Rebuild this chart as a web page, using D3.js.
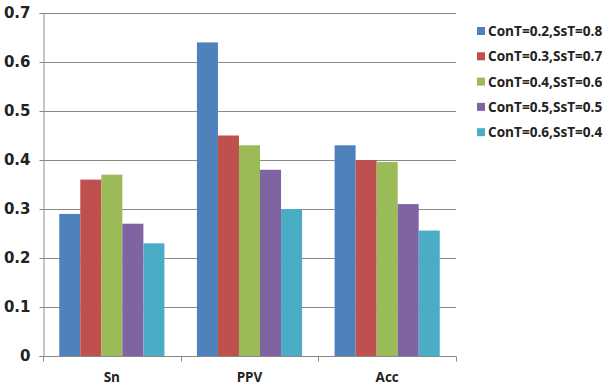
<!DOCTYPE html>
<html><head><meta charset="utf-8">
<script src="https://cdn.jsdelivr.net/npm/d3@7"></script>
<style>body{margin:0;background:#fff}svg{display:block}</style>
</head><body>
<script>
const categories = ["Sn", "PPV", "Acc"];
const seriesNames = ["ConT=0.2,SsT=0.8","ConT=0.3,SsT=0.7","ConT=0.4,SsT=0.6","ConT=0.5,SsT=0.5","ConT=0.6,SsT=0.4"];
const s1 = [0.29, 0.64, 0.43];
const s2 = [0.36, 0.45, 0.40];
const s3 = [0.37, 0.43, 0.396];
const s4 = [0.27, 0.38, 0.31];
const s5 = [0.23, 0.30, 0.256];
const yTicks = [0, 0.1, 0.2, 0.3, 0.4, 0.5, 0.6, 0.7];
const colors = ["#4F81BD", "#C0504D", "#9BBB59", "#8064A2", "#4BACC6"];
const series = [s1, s2, s3, s4, s5];

const W = 609, H = 386;
const m = {left: 43, right: 153, top: 13, bottom: 30};
const svg = d3.select("body").append("svg").attr("width", W).attr("height", H);
const font = "'DejaVu Sans', Verdana, sans-serif";
const lfont = "'Open Sans', sans-serif";

const x0 = d3.scaleBand().domain(categories).range([m.left, W - m.right]).paddingInner(0.236).paddingOuter(0.118);
const x1 = d3.scaleBand().domain(d3.range(series.length)).range([0, x0.bandwidth()]);
const y = d3.scaleLinear().domain([0, 0.7]).range([H - m.bottom, m.top]);

// gridlines
svg.append("g").selectAll("line").data(yTicks.filter(d => d > 0)).join("line")
  .attr("x1", m.left).attr("x2", W - m.right)
  .attr("y1", d => Math.round(y(d)) + 0.5).attr("y2", d => Math.round(y(d)) + 0.5)
  .attr("stroke", "#8a8a8a").attr("stroke-width", 1);

// bars
const g = svg.append("g");
categories.forEach((c, ci) => {
  g.append("g").selectAll("rect").data(series.map((s, si) => ({si, v: s[ci]}))).join("rect")
    .attr("x", d => x0(c) + x1(d.si))
    .attr("width", x1.bandwidth())
    .attr("y", d => y(d.v))
    .attr("height", d => y(0) - y(d.v))
    .attr("fill", d => colors[d.si]);
});

// y axis
const yAxis = d3.axisLeft(y).tickValues(yTicks).tickSize(4).tickPadding(9)
  .tickFormat(d => d === 0 ? "0" : d3.format(".1f")(d));
const ya = svg.append("g").attr("transform", `translate(${m.left + 0.5},0)`).call(yAxis);
ya.select(".domain").attr("stroke", "#8a8a8a");
ya.selectAll(".tick line").attr("stroke", "#8a8a8a");
ya.selectAll("text").attr("font-family", font).attr("font-weight", "bold").attr("font-size", 15).attr("fill", "#222");

// x axis
const xa = svg.append("g").attr("transform", `translate(0,${Math.round(y(0)) + 0.5})`);
xa.append("line").attr("x1", m.left).attr("x2", W - m.right).attr("stroke", "#8a8a8a");
const bounds = d3.range(categories.length + 1).map(i => m.left + (W - m.left - m.right) * i / categories.length);
xa.selectAll("line.tk").data(bounds).join("line").attr("class", "tk")
  .attr("x1", d => Math.round(d) + 0.5).attr("x2", d => Math.round(d) + 0.5)
  .attr("y1", 0).attr("y2", 5).attr("stroke", "#8a8a8a");
xa.selectAll("text").data(categories).join("text")
  .attr("x", d => x0(d) + x0.bandwidth() / 2).attr("y", 25)
  .attr("text-anchor", "middle").attr("font-family", lfont).attr("font-weight", "bold")
  .attr("font-size", 13.5).attr("fill", "#222").text(d => d);

// legend
const lg = svg.append("g").attr("transform", "translate(477,31)");
seriesNames.forEach((n, i) => {
  const r = lg.append("g").attr("transform", `translate(0,${i * 25.3})`);
  r.append("rect").attr("x", 0).attr("y", -4).attr("width", 8).attr("height", 8).attr("fill", colors[i]);
  r.append("text").attr("x", 11).attr("y", 0).attr("dy", "0.36em")
    .attr("font-family", lfont).attr("font-weight", "bold").attr("font-size", 13.6).attr("fill", "#222").text(n);
});
</script>
</body></html>
